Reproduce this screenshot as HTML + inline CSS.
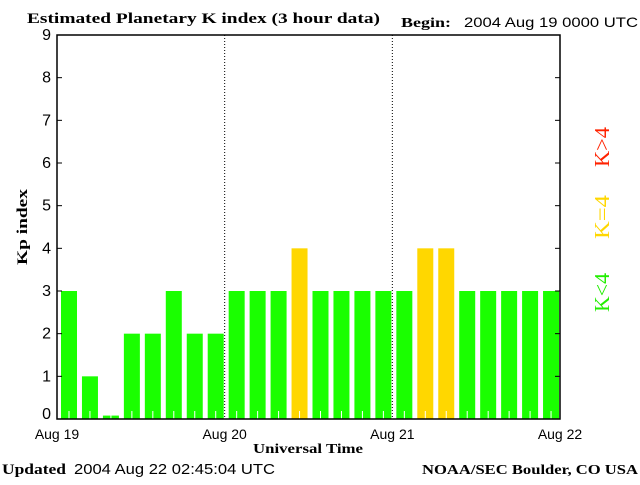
<!DOCTYPE html>
<html><head><meta charset="utf-8"><style>
body{margin:0;background:#fff;width:640px;height:480px;overflow:hidden}
svg text{font-family:"Liberation Serif",serif}
.s{font-family:"Liberation Sans",sans-serif}
</style></head><body>
<svg id="c" width="640" height="480">
<text x="27" y="23" font-size="15" font-weight="bold" textLength="353" lengthAdjust="spacingAndGlyphs">Estimated Planetary K index (3 hour data)</text>
<text x="401" y="27" font-size="14" font-weight="bold" textLength="50" lengthAdjust="spacingAndGlyphs">Begin:</text>
<text x="464" y="27" font-size="14" class="s" textLength="174" lengthAdjust="spacingAndGlyphs">2004 Aug 19 0000 UTC</text>
<text x="2" y="474" font-size="15" font-weight="bold" textLength="64" lengthAdjust="spacingAndGlyphs">Updated</text>
<text x="74" y="474" font-size="15" class="s" textLength="201" lengthAdjust="spacingAndGlyphs">2004 Aug 22 02:45:04 UTC</text>
<text x="422" y="474" font-size="14" font-weight="bold" textLength="216" lengthAdjust="spacingAndGlyphs">NOAA/SEC Boulder, CO USA</text>
<text x="253" y="453" font-size="14" font-weight="bold" textLength="110" lengthAdjust="spacingAndGlyphs">Universal Time</text>
<text transform="translate(27,265) rotate(-90)" font-size="15" font-weight="bold" textLength="76" lengthAdjust="spacingAndGlyphs">Kp index</text>
<g font-size="21" transform="rotate(-90)" font-family="Liberation Serif,serif">
<text x="-312" y="609" fill="#22ee00" textLength="39" lengthAdjust="spacingAndGlyphs">K&lt;4</text>
<text x="-239" y="609" fill="#ffd700" textLength="44" lengthAdjust="spacingAndGlyphs">K=4</text>
<text x="-167" y="609" fill="#ff2200" textLength="40" lengthAdjust="spacingAndGlyphs">K&gt;4</text>
</g>
<g id="bars"></g><g id="axes"></g>
</svg>
<script>
const values=[3,1,0,2,2,3,2,2,3,3,3,4,3,3,3,3,3,4,4,3,3,3,3,3];
const yTicks=[0,1,2,3,4,5,6,7,8,9];
const xLabels=["Aug 19","Aug 20","Aug 21","Aug 22"];
const L=57,R=560,T=35,B=419;
const NS="http://www.w3.org/2000/svg";
const x=i=>L+(R-L)*i/values.length;
const y=v=>B-(B-T)*v/9;
function mk(t,a,p){const e=document.createElementNS(NS,t);for(const k in a)e.setAttribute(k,a[k]);p.appendChild(e);return e;}
const bg=document.getElementById('bars'),ag=document.getElementById('axes');
values.forEach((v,i)=>{
 const col=v<4?'#1aff00':(v==4?'#ffd700':'#ff2200');
 const top=v===0?y(0.08):y(v);
 const r=mk('rect',{x:x(i)+4,y:top,width:16,height:B-top,fill:col},bg);
 
 
 mk('line',{x1:x(i)+12,x2:x(i)+12,y1:B-8,y2:B,stroke:'#fff','stroke-width':1},bg);
});
mk('rect',{x:L,y:T,width:R-L,height:B-T,fill:'none',stroke:'#000','stroke-width':1.5},ag);
yTicks.forEach(v=>{
 mk('line',{x1:L,x2:L+5,y1:y(v),y2:y(v),stroke:'#000'},ag);
 mk('line',{x1:R-5,x2:R,y1:y(v),y2:y(v),stroke:'#000'},ag);
 const t=mk('text',{x:L-6,y:Math.min(y(v)+5,419),'font-size':16,'text-anchor':'end',class:'s'},ag);
 t.textContent=v;
 
 
});
xLabels.forEach((lab,i)=>{
 const xx=L+(R-L)*i/(xLabels.length-1);
 if(i>0&&i<xLabels.length-1) mk('line',{x1:xx,x2:xx,y1:T,y2:B,stroke:'#000','stroke-dasharray':'1,2'},ag);
 const t=mk('text',{x:xx,y:439,'font-size':14,'text-anchor':'middle',class:'s'},ag);
 t.textContent=lab;
 
 
});
</script>
</body></html>
